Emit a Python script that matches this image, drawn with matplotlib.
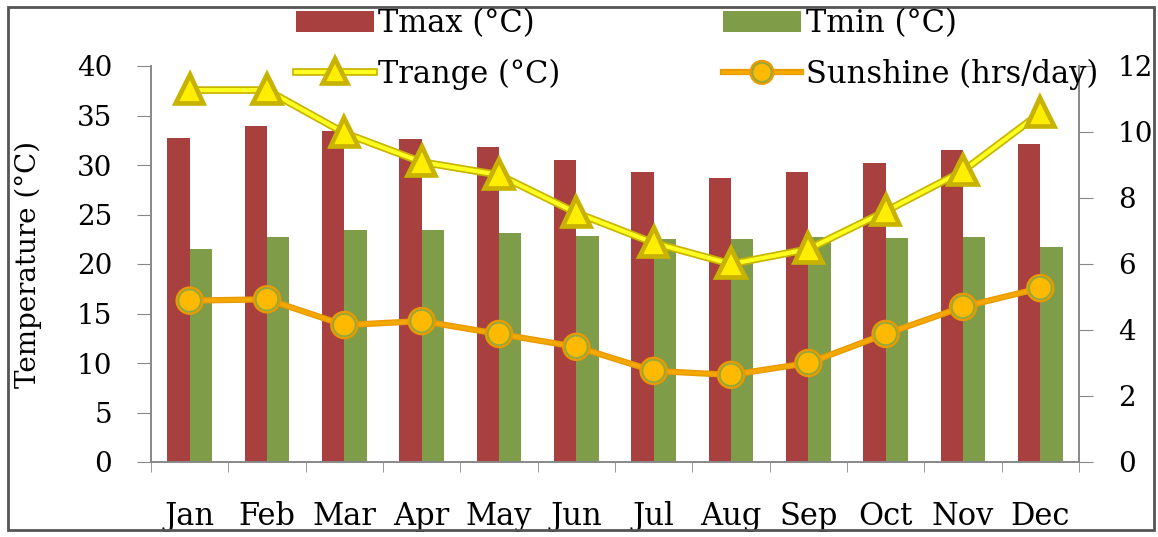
import matplotlib
matplotlib.use("Agg")
import matplotlib.pyplot as plt
import matplotlib.patheffects as pe
from matplotlib.patches import Rectangle
import numpy as np

months = ['Jan', 'Feb', 'Mar', 'Apr', 'May', 'Jun', 'Jul', 'Aug', 'Sep', 'Oct', 'Nov', 'Dec']
tmax = [32.7, 33.9, 33.4, 32.6, 31.8, 30.5, 29.3, 28.7, 29.3, 30.2, 31.5, 32.1]
tmin = [21.5, 22.7, 23.4, 23.4, 23.1, 22.8, 22.5, 22.5, 22.7, 22.6, 22.7, 21.7]
trange = [11.27, 11.27, 9.97, 9.09, 8.7, 7.55, 6.64, 6.0, 6.45, 7.6, 8.82, 10.58]
sunshine = [4.89, 4.93, 4.15, 4.27, 3.88, 3.49, 2.76, 2.64, 3.0, 3.88, 4.7, 5.27]

plt.rcParams['font.family'] = ['DejaVu Serif']

fig = plt.figure(figsize=(11.58, 5.37), dpi=100)
ax = fig.add_axes([151/1158, 75/537, 928/1158, 396/537])
ax2 = ax.twinx()

x = np.arange(len(months))
w = 0.29
b1 = ax.bar(x - w/2, tmax, w, color='#a8403f', zorder=2)
b2 = ax.bar(x + w/2, tmin, w, color='#7f9d48', zorder=2)

l1, = ax2.plot(x, trange, color='#ffff20', lw=3, marker='^', ms=17,
               mfc='#ffee00', mec='#c8b000', mew=1.2,
               path_effects=[pe.Stroke(linewidth=5.5, foreground='#c8b400'), pe.Normal()])
l2, = ax2.plot(x, sunshine, color='#f5a800', lw=2.5, marker='o', ms=16,
               mfc='#ffba00', mec='#8faa40', mew=1.2,
               path_effects=[pe.Stroke(linewidth=4.5, foreground='#e89a00'), pe.Normal()])

ax.set_xlim(-0.5, 11.5)
ax.set_ylim(0, 40)
ax2.set_ylim(0, 12)
ax.set_yticks(range(0, 41, 5))
ax2.set_yticks(range(0, 13, 2))

ax.set_xticks(x)
ax.set_xticklabels(months, fontsize=22)
ax.set_xticks(np.arange(-0.5, 12, 1), minor=True)
ax.tick_params(axis='x', which='major', length=0, pad=28)
ax.tick_params(axis='x', which='minor', length=7, color='#888888', direction='out')
ax.tick_params(axis='y', labelsize=20, length=10, color='#888888', pad=18)
ax2.tick_params(axis='y', labelsize=20, length=10, color='#888888', pad=18)

for a in (ax, ax2):
    a.spines['top'].set_visible(False)
    for s in ('left', 'right', 'bottom'):
        a.spines[s].set_color('#888888')
        a.spines[s].set_linewidth(1.2)

ax.set_ylabel('Temperature (°C)', fontsize=20)
ax.yaxis.set_label_coords(-0.117, 0.5)

ax2.set_zorder(ax.get_zorder() + 1)
ax2.patch.set_visible(False)

leg_kw = dict(loc='upper left', frameon=False, fontsize=22, handlelength=2.55,
              handletextpad=0.15, labelspacing=0.65, borderpad=0, borderaxespad=0,
              markerscale=0.85)
leg1 = fig.legend([b1, l1], ['Tmax (°C)', 'Trange (°C)'],
                  bbox_to_anchor=(296/1158, 1 - 8/537), **leg_kw)
leg2 = fig.legend([b2, l2], ['Tmin (°C)', 'Sunshine (hrs/day)'],
                  bbox_to_anchor=(723/1158, 1 - 8/537), **leg_kw)

fig.patches.append(Rectangle((8/1158, 7/537), 1146/1158, 523/537, transform=fig.transFigure,
                             fill=False, edgecolor='#555555', lw=2))

fig.savefig('out.png', dpi=100)
